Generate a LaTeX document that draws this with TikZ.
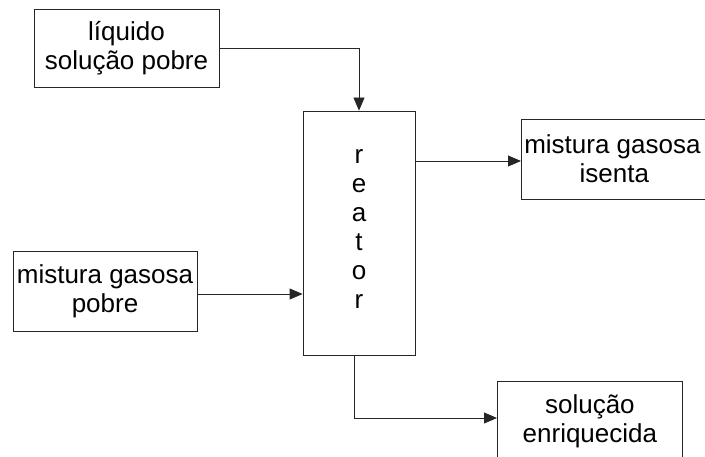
\documentclass[tikz,border=0pt]{standalone}
\usepackage{fontspec}
\setmainfont{Liberation Sans}
\usetikzlibrary{arrows.meta,positioning}

\begin{document}
\begin{tikzpicture}[
  x=1pt, y=-1pt,
  font=\fontsize{26}{29}\selectfont,
  box/.style={draw=black!85, line width=0.8pt, align=center, inner sep=0pt},
  ar/.style={-{Triangle[length=13pt, width=11pt]}, draw=black!85, line width=0.8pt},
]
\clip (0,0) rectangle (705,457);

%% ---------- feed streams ----------
\node[box, minimum width=185pt, minimum height=78pt] (liq) at (126.5,48)
  {líquido\\solução pobre};
\node[box, minimum width=184pt, minimum height=80pt] (gpob) at (105,291)
  {mistura gasosa\\pobre};

%% ---------- reactor ----------
\node[box, minimum width=112pt, minimum height=244pt] (reat) at (359,233)
  {r\\e\\a\\t\\o\\r\strut};

%% ---------- products ----------
\node[box, minimum width=186pt, minimum height=80pt, anchor=west] (gisn) at (521,159)
  {\hspace*{-4pt}mistura gasosa\\isenta};
\node[box, minimum width=185pt, minimum height=80pt, anchor=north west] (senr) at (497,381)
  {solução\\enriquecida};

%% ---------- connectors ----------
\draw[ar] (liq.east) -| (reat.north);
\draw[ar] (reat.east |- 0,161) -- (gisn.west |- 0,161);
\draw[ar] (gpob.east |- 0,294) -- (reat.west |- 0,294);
\draw[ar] ([xshift=-5pt]reat.south) |- (senr.west |- 0,418);

\end{tikzpicture}
\end{document}
